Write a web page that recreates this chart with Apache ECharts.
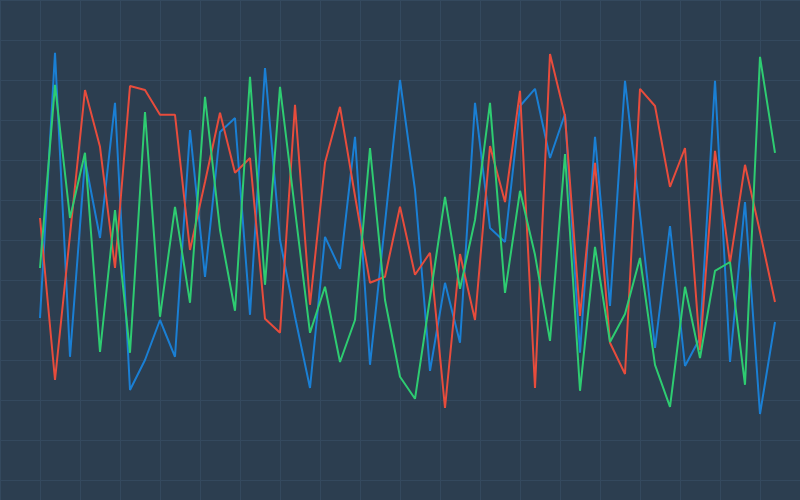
<!DOCTYPE html>
<html>
<head>
<meta charset="utf-8">
<script src="https://cdn.jsdelivr.net/npm/echarts@6/dist/echarts.min.js"></script>
<style>html,body{margin:0;padding:0;background:#2c3e50;}#c{width:800px;height:500px;}</style>
</head>
<body>
<div id="c"></div>
<script>
var categories = [];
for (var i = 1; i <= 50; i++) categories.push(String(i));

var blueValues = [33, 99.3, 23.3, 72.5, 53, 86.8, 15, 22.5, 32.5, 23.3, 80, 43.3, 79.5, 83, 33.8, 95.5, 52.5, 33.3, 15.5, 53.3, 45.3, 78.3, 21.3, 56.8, 92.5, 65, 19.8, 41.8, 26.8, 86.8, 55.5, 52, 86, 90.3, 73, 84, 24.3, 78.3, 36, 92.3, 59, 25.5, 56, 21, 28, 92.3, 22, 62, 9, 32];
var redValues = [58, 17.5, 53.8, 90, 75.8, 45.5, 91, 90, 83.8, 83.8, 50, 67, 84.3, 69.3, 73, 32.8, 29.3, 86.3, 36.3, 71.8, 85.8, 63.5, 41.8, 43.3, 60.8, 43.8, 49.3, 10.5, 49, 32.5, 76, 62, 89.8, 15.5, 99, 83.5, 33.5, 71.8, 26.8, 19, 90.3, 86, 65.8, 75.5, 25, 74.8, 46.8, 71.3, 54.5, 37];
var greenValues = [45.5, 91.3, 58, 74.3, 24.5, 60, 24.3, 84.5, 33.3, 60.8, 36.8, 88.3, 55, 34.8, 93.3, 41.3, 90.8, 60, 29.3, 40.8, 22, 32.5, 75.5, 37.5, 18.3, 12.8, 38, 63.3, 40.3, 57.5, 86.8, 39.3, 64.8, 48.8, 27.3, 74, 14.8, 50.8, 27, 34, 48, 21.3, 10.8, 40.8, 23, 44.8, 47, 16.3, 98.3, 74.3];

var chart = echarts.init(document.getElementById('c'), null, {renderer: 'canvas'});
function lineSeries(data, color) {
  return {
    type: 'line', xAxisIndex: 1, yAxisIndex: 1, data: data,
    symbol: 'none', smooth: false,
    lineStyle: {color: color, width: 2},
    itemStyle: {color: color},
    animation: false
  };
}
chart.setOption({
  backgroundColor: '#2c3e50',
  animation: false,
  grid: [
    {left: 0, right: 0, top: 0, bottom: 0, show: false},
    {left: 40, right: 25, top: 50, bottom: 50, show: false}
  ],
  xAxis: [
    {gridIndex: 0, type: 'value', min: 0, max: 800, interval: 40,
     axisLine: {show: false}, axisTick: {show: false}, axisLabel: {show: false},
     splitLine: {show: true, lineStyle: {color: '#34495e', width: 1}}},
    {gridIndex: 1, type: 'category', data: categories, boundaryGap: false, show: false}
  ],
  yAxis: [
    {gridIndex: 0, type: 'value', min: 0, max: 500, interval: 40, inverse: true,
     axisLine: {show: false}, axisTick: {show: false}, axisLabel: {show: false},
     splitLine: {show: true, lineStyle: {color: '#34495e', width: 1}}},
    {gridIndex: 1, type: 'value', min: 0, max: 100, show: false, splitLine: {show: false}}
  ],
  series: [
    lineSeries(blueValues, '#1a7fd4'),
    lineSeries(redValues, '#e74c3c'),
    lineSeries(greenValues, '#2ecc71')
  ]
});
</script>
</body>
</html>
